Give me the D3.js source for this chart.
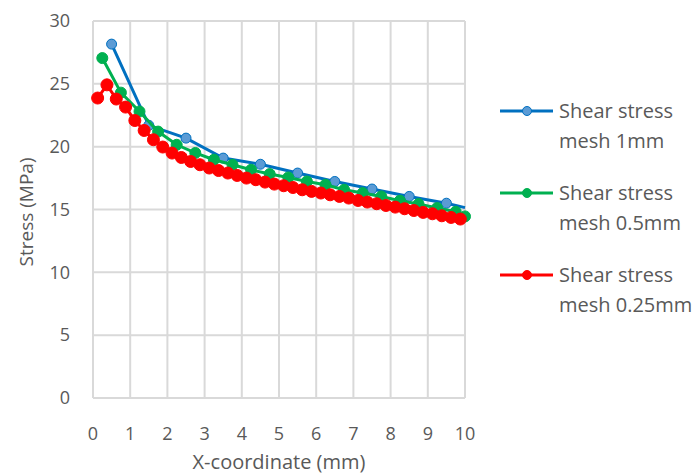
<!DOCTYPE html>
<html><head><meta charset="utf-8">
<script src="https://cdn.jsdelivr.net/npm/d3@7"></script>
<style>body{margin:0;background:#fff}svg{display:block}text{font-family:"Open Sans",sans-serif;fill:#595959}</style>
</head><body><svg id="c" width="698" height="474"></svg>
<script>
const xTicks = [0,1,2,3,4,5,6,7,8,9,10];
const yTicks = [0,5,10,15,20,25,30];
const seriesNames = ["Shear stress mesh 1mm","Shear stress mesh 0.5mm","Shear stress mesh 0.25mm"];
const x1 = [0.5,1.5,2.5,3.5,4.5,5.5,6.5,7.5,8.5,9.5,10];
const y1 = [28.16,21.7,20.68,19.09,18.6,17.9,17.23,16.63,16.04,15.5,15.15];
const x2 = [0.25,0.75,1.25,1.75,2.25,2.75,3.25,3.75,4.25,4.75,5.25,5.75,6.25,6.75,7.25,7.75,8.25,8.75,9.25,9.75,10];
const y2 = [27.05,24.3,22.8,21.2,20.15,19.5,18.96,18.56,18.16,17.82,17.55,17.23,16.97,16.57,16.31,16.04,15.7,15.43,15.12,14.82,14.45];
const x3 = [0.125,0.375,0.625,0.875,1.125,1.375,1.625,1.875,2.125,2.375,2.625,2.875,3.125,3.375,3.625,3.875,4.125,4.375,4.625,4.875,5.125,5.375,5.625,5.875,6.125,6.375,6.625,6.875,7.125,7.375,7.625,7.875,8.125,8.375,8.625,8.875,9.125,9.375,9.625,9.875];
const y3 = [23.87,24.92,23.79,23.15,22.08,21.29,20.55,19.97,19.49,19.14,18.82,18.56,18.3,18.1,17.9,17.71,17.5,17.37,17.18,17.02,16.89,16.75,16.57,16.44,16.31,16.17,16.04,15.91,15.72,15.59,15.46,15.32,15.19,15.06,14.92,14.77,14.66,14.5,14.37,14.24];

const series = [
  {name:seriesNames[0], xs:x1, ys:y1, line:"#0070C0", fill:"#5B9BD5", r:5, markEnd:false},
  {name:seriesNames[1], xs:x2, ys:y2, line:"#00B050", fill:"#00B050", r:5.5, markEnd:true},
  {name:seriesNames[2], xs:x3, ys:y3, line:"#FF0000", fill:"#FF0000", r:6, markEnd:true}
];

const svg = d3.select("#c");
const L=93, R=465, T=21, B=398;
const x = d3.scaleLinear().domain([0,10]).range([L,R]);
const y = d3.scaleLinear().domain([0,30]).range([B,T]);

const g = svg.append("g");
g.selectAll("line.h").data(yTicks).join("line")
  .attr("x1",L).attr("x2",R).attr("y1",d=>y(d)).attr("y2",d=>y(d))
  .attr("stroke","#D9D9D9").attr("stroke-width",2);
g.selectAll("line.v").data(xTicks).join("line")
  .attr("y1",T).attr("y2",B).attr("x1",d=>x(d)).attr("x2",d=>x(d))
  .attr("stroke","#D9D9D9").attr("stroke-width",2);

g.selectAll("text.yt").data(yTicks).join("text")
  .attr("x",70).attr("y",d=>y(d)).attr("dy","0.35em").attr("text-anchor","end")
  .attr("font-size",18).text(d=>d);
g.selectAll("text.xt").data(xTicks).join("text")
  .attr("x",d=>x(d)).attr("y",434).attr("dy","0.35em").attr("text-anchor","middle")
  .attr("font-size",18).text(d=>d);

svg.append("text").attr("x",279).attr("y",462).attr("dy","0.35em").attr("text-anchor","middle")
  .attr("font-size",20).text("X-coordinate (mm)");
svg.append("text").attr("transform","translate(26,212) rotate(-90)").attr("dy","0.35em")
  .attr("text-anchor","middle").attr("font-size",19).text("Stress (MPa)");

const line = d3.line().x(d=>x(d[0])).y(d=>y(d[1]));
series.forEach(s=>{
  const pts = s.xs.map((v,i)=>[v,s.ys[i]]);
  svg.append("path").attr("d",line(pts)).attr("fill","none").attr("stroke",s.line).attr("stroke-width",3);
  const mp = s.markEnd ? pts : pts.slice(0,-1);
  svg.selectAll(null).data(mp).join("circle")
    .attr("cx",d=>x(d[0])).attr("cy",d=>y(d[1])).attr("r",s.r)
    .attr("fill",s.fill).attr("stroke",s.line).attr("stroke-width",1);
});

const ly = [111,193,275];
series.forEach((s,i)=>{
  const lg = svg.append("g");
  lg.append("line").attr("x1",500).attr("x2",553).attr("y1",ly[i]).attr("y2",ly[i])
    .attr("stroke",s.line).attr("stroke-width",3);
  lg.append("circle").attr("cx",527).attr("cy",ly[i]).attr("r",4.5).attr("fill",s.fill).attr("stroke",s.line).attr("stroke-width",1);
  const words = s.name.split(" ");
  const t = lg.append("text").attr("x",559).attr("y",ly[i]).attr("dy","0.35em").attr("font-size",20);
  t.append("tspan").attr("x",559).text(words.slice(0,2).join(" "));
  t.append("tspan").attr("x",559).attr("dy",30).text(words.slice(2).join(" "));
});
</script></body></html>
